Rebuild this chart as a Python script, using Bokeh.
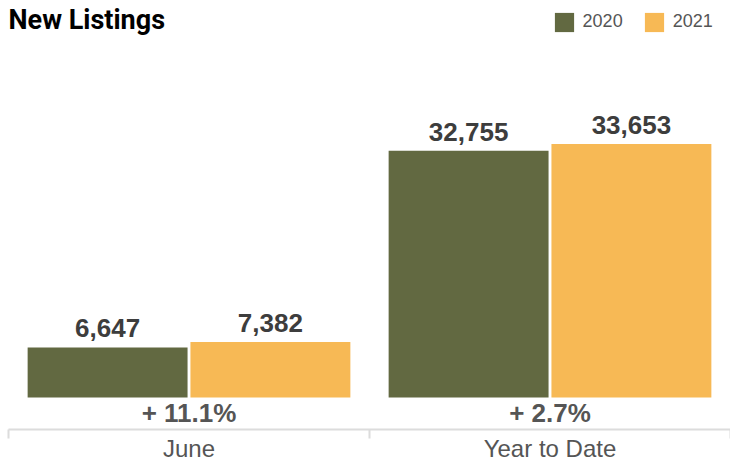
from bokeh.plotting import figure
from bokeh.models import (ColumnDataSource, Range1d, LinearAxis, FixedTicker,
                          Legend, LegendItem, Label)
from bokeh.transform import dodge
from bokeh.core.properties import value
from bokeh.embed import file_html
from bokeh.resources import INLINE

# ---- data ----
categories = ["June", "Year to Date"]
values_2020 = [6647, 32755]
values_2021 = [7382, 33653]
pct_change = ["+ 11.1%", "+ 2.7%"]
series_names = ["2020", "2021"]

# ---- styling ----
C2020 = "#626941"
C2021 = "#f7b955"
FONT = "Liberation Sans"
W, H = 730, 464
LEFT = 8
FRAME_H = 429          # expected frame height (figure minus axis panel)
ZERO_PX = 397          # zero line, pixels from top of frame
UNITS_PER_PX = 132.8

idx = list(range(len(categories)))
src = ColumnDataSource(dict(
    idx=idx,
    v2020=values_2020,
    v2021=values_2021,
    l2020=[f"{v:,}" for v in values_2020],
    l2021=[f"{v:,}" for v in values_2021],
    pct=pct_change,
    zero=[0] * len(categories),
))

x0 = -0.5
p = figure(width=W, height=H, output_backend="svg", toolbar_location=None,
           x_range=Range1d(x0, x0 + len(categories)),
           y_range=Range1d(-(FRAME_H - ZERO_PX) * UNITS_PER_PX, ZERO_PX * UNITS_PER_PX),
           x_axis_type=None, y_axis_type=None,
           min_border=0, min_border_left=LEFT, outline_line_color=None)
p.xgrid.visible = False
p.ygrid.visible = False
p.background_fill_color = "white"

BW = 0.443
OFF = 0.2255
r1 = p.vbar(x=dodge("idx", -OFF), top="v2020", bottom=0, width=BW, source=src,
            fill_color=C2020, line_color=None)
r2 = p.vbar(x=dodge("idx", OFF), top="v2021", bottom=0, width=BW, source=src,
            fill_color=C2021, line_color=None)

common = dict(text_align="center", text_baseline="alphabetic",
              text_font=value(FONT), text_font_style="bold", text_font_size="26px")
p.text(x=dodge("idx", -OFF), y="v2020", text="l2020", y_offset=-19,
       text_color="#3d3d3d", source=src, **common)
p.text(x=dodge("idx", OFF), y="v2021", text="l2021", y_offset=-19,
       text_color="#3d3d3d", source=src, **common)
p.text(x="idx", y="zero", text="pct", y_offset=15, text_color="#555555",
       source=src, **common)

axis = LinearAxis(
    ticker=FixedTicker(ticks=idx, minor_ticks=[i - 0.5 for i in idx] + [idx[-1] + 0.5]),
    major_label_overrides={i: c for i, c in zip(idx, categories)},
    major_tick_line_color=None, major_tick_out=0, major_tick_in=0,
    minor_tick_out=9, minor_tick_in=0, minor_tick_line_color="#dcdcdc",
    minor_tick_line_width=2,
    axis_line_color="#dcdcdc", axis_line_width=2,
    major_label_text_font=FONT, major_label_text_font_size="24px",
    major_label_text_color="#555555", major_label_standoff=-4,
)
p.add_layout(axis, "below")

legend = Legend(items=[LegendItem(label=series_names[0], renderers=[r1]),
                       LegendItem(label=series_names[1], renderers=[r2])],
                orientation="horizontal", location=(543.6, FRAME_H - 33.6),
                padding=0, margin=0, spacing=19, label_standoff=7,
                glyph_width=24, glyph_height=24,
                label_text_font=FONT, label_text_font_size="18px",
                label_text_color="#555555",
                border_line_color=None, background_fill_alpha=0)
p.add_layout(legend, "center")

title = Label(x=x0, y=ZERO_PX * UNITS_PER_PX, text="New Listings",
              text_baseline="top", text_font="Roboto",
              text_font_style="bold", text_font_size="27px", text_color="#000000",
              x_offset=0, y_offset=-3)
p.add_layout(title)

open("out.html", "w").write(file_html(p, INLINE))
